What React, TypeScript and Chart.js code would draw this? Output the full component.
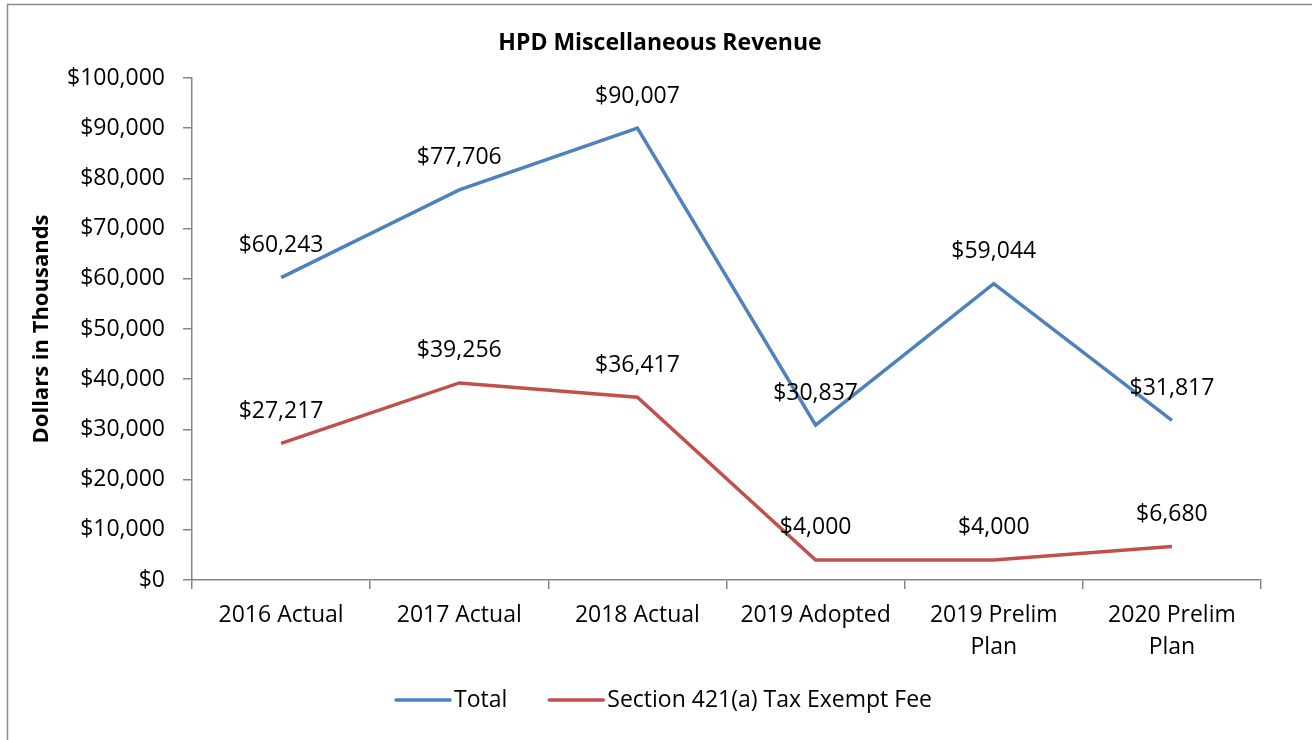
import React, { useEffect, useRef } from "react";
import { Chart, registerables } from "chart.js";

Chart.register(...registerables);

const categories: (string | string[])[] = [
  "2016 Actual",
  "2017 Actual",
  "2018 Actual",
  "2019 Adopted",
  ["2019 Prelim", "Plan"],
  ["2020 Prelim", "Plan"],
];
const totalValues = [60243, 77706, 90007, 30837, 59044, 31817];
const section421aValues = [27217, 39256, 36417, 4000, 4000, 6680];
const seriesNames = ["Total", "Section 421(a) Tax Exempt Fee"];
const yTickStep = 10000;
const yMax = 100000;

const FONT = "'Open Sans', 'Noto Sans', sans-serif";
const fmt = (v: number) => "$" + v.toLocaleString("en-US");

const decorPlugin = {
  id: "decor",
  beforeDraw(chart: any) {
    const ctx = chart.ctx;
    ctx.save();
    ctx.fillStyle = "#ffffff";
    ctx.fillRect(0, 0, chart.width, chart.height);
    ctx.strokeStyle = "#8c8c8c";
    ctx.lineWidth = 1.5;
    ctx.strokeRect(7.5, 4.5, 1400, 800);
    ctx.restore();
  },
  afterDraw(chart: any) {
    const ctx = chart.ctx;
    ctx.save();
    ctx.fillStyle = "#000";
    // Title
    ctx.font = `bold 23px ${FONT}`;
    ctx.textAlign = "center";
    ctx.textBaseline = "middle";
    ctx.fillText("HPD Miscellaneous Revenue", 660, 43);
    // Y axis title
    ctx.save();
    ctx.translate(42, 329);
    ctx.rotate(-Math.PI / 2);
    ctx.font = `bold 22px ${FONT}`;
    ctx.fillText("Dollars in Thousands", 0, 0);
    ctx.restore();

    // Data labels
    ctx.font = `23px ${FONT}`;
    chart.data.datasets.forEach((ds: any, i: number) => {
      const meta = chart.getDatasetMeta(i);
      meta.data.forEach((pt: any, j: number) => {
        ctx.fillText(fmt(ds.data[j]), pt.x, pt.y - 32);
      });
    });

    // Legend
    ctx.font = `23px ${FONT}`;
    ctx.textAlign = "left";
    const lineLen = 54;
    const gapText = 4;
    const gapItems = 42;
    const items = chart.data.datasets.map((ds: any) => ({
      label: ds.label,
      color: ds.borderColor,
      w: ctx.measureText(ds.label).width,
    }));
    const total =
      items.reduce((s: number, it: any) => s + lineLen + gapText + it.w, 0) +
      gapItems * (items.length - 1);
    let x = 664 - total / 2;
    const ly = 700;
    items.forEach((it: any) => {
      ctx.strokeStyle = it.color;
      ctx.lineWidth = 3.5;
      ctx.lineCap = "round";
      ctx.beginPath();
      ctx.moveTo(x, ly);
      ctx.lineTo(x + lineLen, ly);
      ctx.stroke();
      ctx.fillStyle = "#000";
      ctx.fillText(it.label, x + lineLen + gapText, ly);
      x += lineLen + gapText + it.w + gapItems;
    });
    ctx.restore();
  },
};

export default function App() {
  const ref = useRef<HTMLCanvasElement | null>(null);
  useEffect(() => {
    document.body.style.margin = "0";
    if (!ref.current) return;
    const chart = new Chart(ref.current, {
      type: "line",
      data: {
        labels: categories as any,
        datasets: [
          {
            label: seriesNames[0],
            data: totalValues,
            borderColor: "#4F81BD",
            backgroundColor: "#4F81BD",
            borderWidth: 3.5,
            pointRadius: 0,
            tension: 0,
          },
          {
            label: seriesNames[1],
            data: section421aValues,
            borderColor: "#C0504D",
            backgroundColor: "#C0504D",
            borderWidth: 3.5,
            pointRadius: 0,
            tension: 0,
          },
        ],
      },
      options: {
        responsive: false,
        animation: false,
        layout: { padding: { left: 32, right: 51, top: 78, bottom: 60 } },
        plugins: {
          legend: { display: false },
          title: { display: false },
          tooltip: { enabled: false },
        },
        scales: {
          x: {
            offset: true,
            grid: {
              offset: true,
              drawOnChartArea: false,
              drawTicks: true,
              tickLength: 9,
              color: "#868686",
              lineWidth: 1.5,
            },
            border: { display: true, color: "#868686", width: 1.5 },
            ticks: {
              color: "#000",
              font: { family: FONT, size: 23, lineHeight: 1.39 },
              padding: 10,
              maxRotation: 0,
              autoSkip: false,
            },
            afterFit: (s: any) => {
              s.height = 100;
            },
          },
          y: {
            min: 0,
            max: yMax,
            grid: {
              drawOnChartArea: false,
              drawTicks: true,
              tickLength: 9,
              color: "#868686",
              lineWidth: 1.5,
            },
            border: { display: true, color: "#868686", width: 1.5 },
            ticks: {
              stepSize: yTickStep,
              color: "#000",
              font: { family: FONT, size: 23 },
              padding: 18,
              callback: (v: any) => fmt(Number(v)),
            },
            afterFit: (s: any) => {
              s.width = 160;
            },
          },
        },
      },
      plugins: [decorPlugin],
    });
    return () => chart.destroy();
  }, []);
  return (
    <canvas
      ref={ref}
      width={1312}
      height={740}
      style={{ display: "block", width: 1312, height: 740 }}
    />
  );
}
